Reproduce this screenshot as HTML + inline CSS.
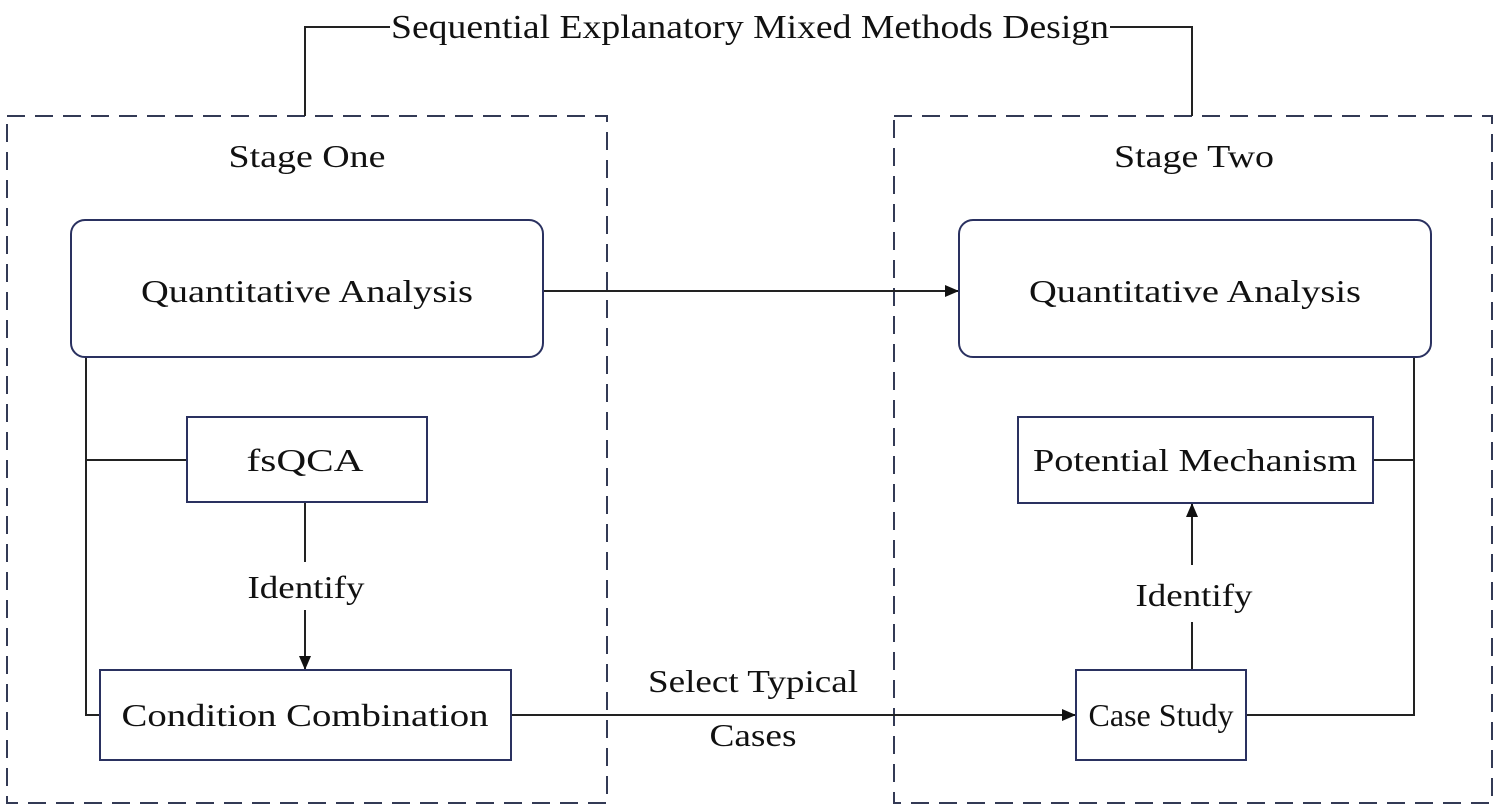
<!DOCTYPE html>
<html><head><meta charset="utf-8"><style>
html,body{margin:0;padding:0;background:#fff;}
svg{display:block}
text{font-family:"Liberation Serif","DejaVu Serif",serif;fill:#111;}
</style></head><body>
<svg width="1500" height="809" viewBox="0 0 1500 809" xmlns="http://www.w3.org/2000/svg">
<defs>
<marker id="b" markerWidth="14" markerHeight="14" refX="13" refY="7" orient="auto" markerUnits="userSpaceOnUse"><path d="M0,1 L14,7 L0,13 z" fill="#111"/></marker></defs>
<g fill="none" stroke="#333a55" stroke-width="2" stroke-dasharray="18,10">
<rect x="7" y="116" width="600" height="687"/>
<rect x="894" y="116" width="598" height="687"/>
</g>
<g fill="none" stroke="#222" stroke-width="2">
<polyline points="305,116 305,27 390,27"/>
<polyline points="1110,27 1192,27 1192,116"/>
<line x1="543" y1="291" x2="958" y2="291" marker-end="url(#b)"/>
<polyline points="86,357 86,715 100,715"/>
<line x1="86" y1="460" x2="187" y2="460"/>
<line x1="305" y1="502" x2="305" y2="562"/>
<line x1="305" y1="610" x2="305" y2="669" marker-end="url(#b)"/>
<line x1="511" y1="715" x2="1075" y2="715" marker-end="url(#b)"/>
<polyline points="1414,357 1414,715 1246,715"/>
<line x1="1414" y1="460" x2="1373" y2="460"/>
<line x1="1192" y1="670" x2="1192" y2="622"/>
<line x1="1192" y1="565" x2="1192" y2="504" marker-end="url(#b)"/>
</g>
<g fill="#fff" stroke="#2a3160" stroke-width="2">
<rect x="71" y="220" width="472" height="137" rx="14"/>
<rect x="959" y="220" width="472" height="137" rx="14"/>
<rect x="187" y="417" width="240" height="85"/>
<rect x="1018" y="417" width="355" height="86"/>
<rect x="100" y="670" width="411" height="90"/>
<rect x="1076" y="670" width="170" height="90"/>
</g>
<rect x="642" y="662" width="222" height="44" fill="#fff"/>
<rect x="700" y="722" width="108" height="40" fill="#fff"/>
<g font-size="32" text-anchor="middle" lengthAdjust="spacingAndGlyphs">
<text x="750" y="38" font-size="34" textLength="718" lengthAdjust="spacingAndGlyphs">Sequential Explanatory Mixed Methods Design</text>
<text x="307" y="167" textLength="157" lengthAdjust="spacingAndGlyphs">Stage One</text>
<text x="1194" y="167" textLength="160" lengthAdjust="spacingAndGlyphs">Stage Two</text>
<text x="307" y="302" textLength="332" lengthAdjust="spacingAndGlyphs">Quantitative Analysis</text>
<text x="1195" y="302" textLength="332" lengthAdjust="spacingAndGlyphs">Quantitative Analysis</text>
<text x="305" y="471" textLength="117" lengthAdjust="spacingAndGlyphs">fsQCA</text>
<text x="1195" y="471" textLength="324" lengthAdjust="spacingAndGlyphs">Potential Mechanism</text>
<text x="306" y="598" textLength="117" lengthAdjust="spacingAndGlyphs">Identify</text>
<text x="1194" y="606" textLength="117" lengthAdjust="spacingAndGlyphs">Identify</text>
<text x="305" y="726" textLength="367" lengthAdjust="spacingAndGlyphs">Condition Combination</text>
<text x="1161" y="726" textLength="145" lengthAdjust="spacingAndGlyphs">Case Study</text>
<text x="753" y="692" textLength="210" lengthAdjust="spacingAndGlyphs">Select Typical</text>
<text x="753" y="746" textLength="87" lengthAdjust="spacingAndGlyphs">Cases</text>
</g>
</svg>
</body></html>
